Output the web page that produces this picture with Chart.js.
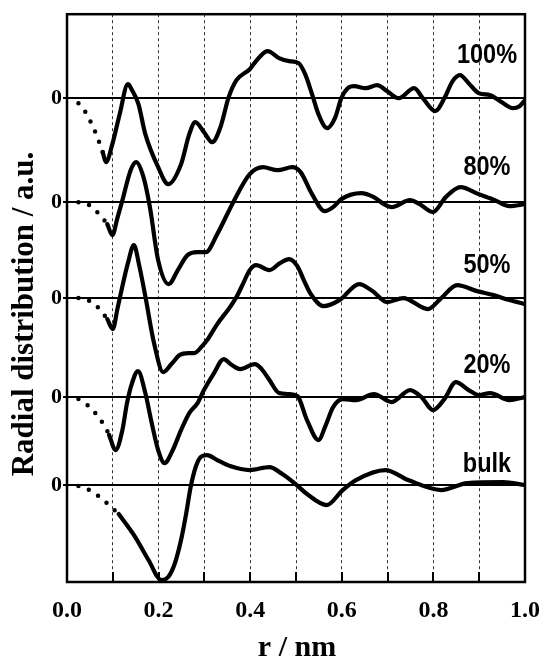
<!DOCTYPE html>
<html>
<head>
<meta charset="utf-8">
<script src="https://cdn.jsdelivr.net/npm/chart.js@4.4.0/dist/chart.umd.min.js"></script>
<style>
  body { margin: 0; background: #fff; }
</style>
</head>
<body>
<canvas id="rdf_chart" width="554" height="659"></canvas>
<script>
// curve names and vertical offsets of their zero lines (a.u.)
var names = ["100%", "80%", "50%", "20%", "bulk"];
var offsets = [484, 380, 284, 185, 97];

// r in nm, g relative to each curve's own zero
var r100dot = [0.025, 0.044, 0.065, 0.078];
var g100dot = [-5, -16, -37, -54];
var r100 = [0.078, 0.085, 0.099, 0.115, 0.133, 0.142, 0.156, 0.171, 0.199, 0.221, 0.249, 0.267, 0.280, 0.299, 0.317, 0.335, 0.353, 0.370, 0.399, 0.420, 0.438, 0.463, 0.485, 0.506, 0.520, 0.535, 0.549, 0.568, 0.585, 0.599, 0.613, 0.627, 0.652, 0.677, 0.699, 0.724, 0.758, 0.777, 0.804, 0.824, 0.842, 0.858, 0.877, 0.899, 0.924, 0.949, 0.974, 0.988, 1.0];
var g100 = [-54, -64, -46, -16, 14, 8, -6, -36, -69, -86, -66, -36, -24, -34, -44, -29, 1, 18, 29, 41, 47, 40, 37, 35, 24, 4, -16, -30, -20, 0, 10, 12, 10, 13, 7, 0, 10, 0, -13, 0, 17, 23, 15, 5, 3, -4, -10, -8, -2];

var r80dot = [0.025, 0.049, 0.071, 0.088];
var g80dot = [0, -3, -12, -22];
var r80 = [0.088, 0.099, 0.110, 0.121, 0.139, 0.151, 0.167, 0.181, 0.199, 0.222, 0.242, 0.263, 0.285, 0.303, 0.328, 0.363, 0.399, 0.428, 0.460, 0.492, 0.510, 0.535, 0.563, 0.581, 0.599, 0.642, 0.670, 0.692, 0.709, 0.749, 0.770, 0.799, 0.827, 0.859, 0.899, 0.934, 0.966, 1.0];
var g80 = [-22, -33, -16, 2, 32, 40, 25, -5, -58, -82, -68, -53, -50, -50, -32, 0, 28, 35, 32, 35, 30, 8, -9, -5, 3, 9, 5, -2, -5, 2, -2, -10, 5, 15, 8, 2, -4, -2];

var r50dot = [0.025, 0.051, 0.072, 0.088];
var g50dot = [0, -3, -11, -21];
var r50 = [0.088, 0.100, 0.110, 0.121, 0.133, 0.146, 0.158, 0.171, 0.190, 0.210, 0.228, 0.246, 0.265, 0.278, 0.295, 0.306, 0.328, 0.356, 0.370, 0.385, 0.399, 0.413, 0.442, 0.465, 0.485, 0.503, 0.517, 0.531, 0.560, 0.595, 0.638, 0.667, 0.699, 0.734, 0.788, 0.817, 0.852, 0.895, 0.931, 0.966, 1.0];
var g50 = [-21, -31, -11, 12, 35, 53, 32, 2, -45, -74, -66, -57, -55, -55, -48, -42, -26, -9, 1, 15, 28, 33, 28, 35, 39, 32, 18, 5, -8, -2, 14, 7, -4, 0, -11, 0, 13, 7, 3, -2, -6];

var r20dot = [0.025, 0.051, 0.071, 0.085, 0.092];
var g20dot = [-2, -10, -21, -31, -38];
var r20 = [0.092, 0.106, 0.121, 0.131, 0.142, 0.155, 0.171, 0.185, 0.199, 0.213, 0.231, 0.249, 0.267, 0.285, 0.299, 0.321, 0.342, 0.360, 0.378, 0.410, 0.425, 0.442, 0.463, 0.485, 0.503, 0.524, 0.549, 0.565, 0.581, 0.602, 0.631, 0.670, 0.709, 0.749, 0.774, 0.799, 0.824, 0.849, 0.877, 0.899, 0.924, 0.966, 1.0];
var g20 = [-38, -53, -33, -6, 14, 26, 4, -26, -53, -66, -53, -33, -16, -6, 7, 24, 38, 32, 28, 33, 28, 17, 4, 3, 1, -23, -43, -28, -10, -2, -3, 3, -5, 7, 0, -13, -2, 15, 7, 2, 4, -3, 0];

var rBulkdot = [0.025, 0.049, 0.072, 0.092, 0.113];
var gBulkdot = [-1, -5, -12, -20, -29];
var rBulk = [0.113, 0.149, 0.178, 0.206, 0.221, 0.235, 0.249, 0.260, 0.270, 0.281, 0.292, 0.306, 0.328, 0.356, 0.399, 0.442, 0.470, 0.499, 0.524, 0.567, 0.602, 0.631, 0.695, 0.745, 0.817, 0.874, 0.952, 1.0];
var gBulk = [-29, -52, -75, -95, -92, -79, -55, -29, -2, 18, 28, 30, 25, 19, 15, 18, 11, 1, -9, -20, -5, 5, 15, 5, -5, 2, 3, 0];

var xTicks = [0.0, 0.2, 0.4, 0.6, 0.8, 1.0];

var solidR = [r100, r80, r50, r20, rBulk];
var solidG = [g100, g80, g50, g20, gBulk];
var dotR = [r100dot, r80dot, r50dot, r20dot, rBulkdot];
var dotG = [g100dot, g80dot, g50dot, g20dot, gBulkdot];

function toPoints(rs, gs, off) {
    var pts = [];
    for (var i = 0; i < rs.length; i++) {
        pts.push({ x: rs[i], y: gs[i] + off });
    }
    return pts;
}

var datasets = [];
for (var i = 0; i < names.length; i++) {
    datasets.push({
        label: names[i] + " dots",
        data: toPoints(dotR[i], dotG[i], offsets[i]),
        borderColor: '#000',
        borderWidth: 4.5,
        borderDash: [0, 11],
        borderCapStyle: 'round',
        pointRadius: 0,
        tension: 0
    });
    datasets.push({
        label: names[i],
        data: toPoints(solidR[i], solidG[i], offsets[i]),
        borderColor: '#000',
        borderWidth: 4.2,
        borderCapStyle: 'round',
        borderJoinStyle: 'round',
        cubicInterpolationMode: 'monotone',
        pointRadius: 0
    });
}

// where the curve names sit above their zero lines
var labelLift = [35, 27, 25, 24, 13];

var framePlugin = {
    id: 'frame',
    afterDraw: function (chart) {
        var ctx = chart.ctx;
        var a = chart.chartArea;
        var xs = chart.scales.x;
        var ys = chart.scales.y;
        ctx.save();
        ctx.strokeStyle = '#000';
        ctx.lineWidth = 2.5;
        ctx.strokeRect(a.left, a.top, a.right - a.left, a.bottom - a.top);

        ctx.lineWidth = 2;
        for (var k = 1; k < 10; k++) {
            var px = Math.round(xs.getPixelForValue(k / 10));
            ctx.beginPath();
            ctx.moveTo(px, a.bottom);
            ctx.lineTo(px, a.bottom - 10);
            ctx.stroke();
        }

        ctx.fillStyle = '#000';
        ctx.textAlign = 'center';
        ctx.textBaseline = 'alphabetic';
        ctx.font = "bold 28px 'Liberation Sans', sans-serif";
        for (var j = 0; j < names.length; j++) {
            // condensed look of the original labels
            ctx.save();
            ctx.translate(xs.getPixelForValue(0.917), ys.getPixelForValue(offsets[j] + labelLift[j]));
            ctx.scale(0.84, 1);
            ctx.fillText(names[j], 0, 0);
            ctx.restore();
        }

        ctx.font = "bold 30px 'Liberation Serif', serif";
        ctx.fillText('r / nm', (a.left + a.right) / 2 + 1, 656);

        ctx.translate(33, 314);
        ctx.rotate(-Math.PI / 2);
        ctx.font = "bold 31px 'Liberation Serif', serif";
        ctx.fillText('Radial distribution / a.u.', 0, 0);
        ctx.restore();
    }
};

var canvas = document.getElementById('rdf_chart').getContext('2d');

var chart = new Chart(canvas, {
    type: 'line',
    data: { datasets: datasets },
    options: {
        responsive: false,
        animation: false,
        devicePixelRatio: 1,
        layout: { padding: { left: 0, top: 14, right: 20, bottom: 0 } },
        plugins: {
            legend: { display: false },
            tooltip: { enabled: false }
        },
        scales: {
            x: {
                type: 'linear',
                min: 0,
                max: 1,
                afterFit: function (scale) { scale.height = 77; },
                ticks: {
                    stepSize: 0.1,
                    autoSkip: false,
                    maxRotation: 0,
                    padding: 14,
                    color: '#000',
                    font: { family: "'Liberation Serif', serif", size: 24, weight: 'bold' },
                    callback: function (v) {
                        for (var t = 0; t < xTicks.length; t++) {
                            if (Math.abs(xTicks[t] - v) < 1e-6) return xTicks[t].toFixed(1);
                        }
                        return '';
                    }
                },
                grid: { color: '#333', lineWidth: 1, drawTicks: false },
                border: { display: false, dash: [3, 3] }
            },
            y: {
                type: 'linear',
                min: 0,
                max: 568,
                afterFit: function (scale) { scale.width = 67; },
                afterBuildTicks: function (scale) {
                    scale.ticks = offsets.map(function (v) { return { value: v }; });
                },
                ticks: {
                    padding: 1,
                    color: '#000',
                    font: { family: "'Liberation Serif', serif", size: 22, weight: 'bold' },
                    callback: function () { return '0'; }
                },
                grid: { color: '#000', lineWidth: 2, tickLength: 4 },
                border: { display: false }
            }
        }
    },
    plugins: [framePlugin]
});
</script>
</body>
</html>
